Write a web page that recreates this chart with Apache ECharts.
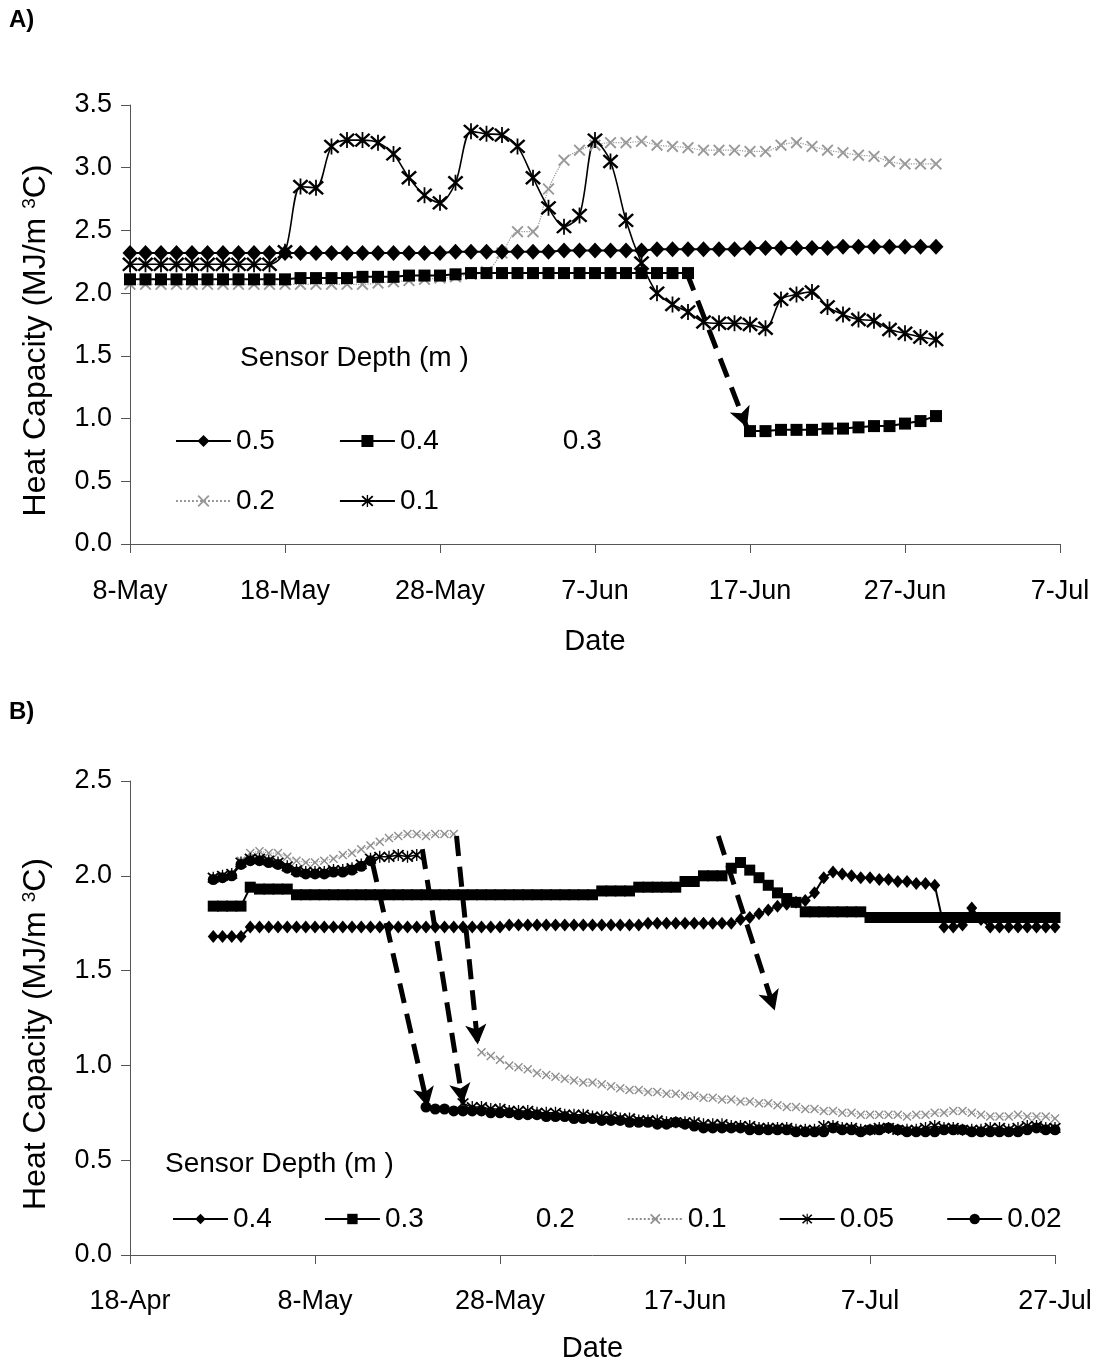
<!DOCTYPE html>
<html><head><meta charset="utf-8">
<script src="https://cdn.jsdelivr.net/npm/echarts@6/dist/echarts.min.js"></script>
<style>html,body{margin:0;padding:0;background:#fff}#c{width:1099px;height:1364px}</style>
</head><body><div id="c"></div>
<script>
// ---------- Panel A (days after 8-May) ----------
const ticksA = ['8-May','18-May','28-May','7-Jun','17-Jun','27-Jun','7-Jul'];
const startA = 0;
const a05 = [2.32,2.32,2.32,2.32,2.32,2.32,2.32,2.32,2.32,2.32,
             2.32,2.32,2.32,2.32,2.32,2.32,2.32,2.32,2.32,2.32,
             2.32,2.33,2.33,2.33,2.33,2.33,2.33,2.33,2.34,2.34,
             2.34,2.34,2.34,2.34,2.35,2.35,2.35,2.35,2.35,2.35,
             2.36,2.36,2.36,2.36,2.36,2.36,2.37,2.37,2.37,2.37,
             2.37,2.37,2.37];
const a04 = [2.11,2.11,2.11,2.11,2.11,2.11,2.11,2.11,2.11,2.11,
             2.11,2.12,2.12,2.12,2.12,2.13,2.13,2.13,2.14,2.14,
             2.14,2.15,2.16,2.16,2.16,2.16,2.16,2.16,2.16,2.16,
             2.16,2.16,2.16,2.16,2.16,2.16,2.16,null,null,null,
             0.90,0.90,0.91,0.91,0.91,0.92,0.92,0.93,0.94,0.94,
             0.96,0.98,1.02];
const a03 = [];
const a02 = [2.07,2.07,2.07,2.07,2.07,2.07,2.07,2.07,2.07,2.07,
             2.07,2.07,2.07,2.07,2.07,2.07,2.08,2.09,2.10,2.11,
             2.12,2.13,2.15,2.17,2.32,2.49,2.49,2.83,3.06,3.14,
             3.18,3.20,3.20,3.21,3.18,3.17,3.16,3.14,3.14,3.14,
             3.13,3.13,3.18,3.20,3.17,3.14,3.12,3.10,3.09,3.05,
             3.03,3.03,3.03];
const a01 = [2.23,2.23,2.23,2.23,2.23,2.23,2.23,2.23,2.23,2.23,
             2.33,2.85,2.84,3.17,3.22,3.22,3.20,3.11,2.92,2.78,
             2.72,2.88,3.29,3.27,3.26,3.17,2.92,2.68,2.53,2.62,
             3.22,3.05,2.58,2.24,2.00,1.91,1.85,1.77,1.76,1.76,
             1.75,1.72,1.95,1.99,2.01,1.89,1.83,1.79,1.78,1.71,
             1.68,1.65,1.63];
// arrow annotation: [day1, value1, day2, value2]
const arrowsA = [[35.9, 2.17, 39.8, 0.93]];

// ---------- Panel B (days after 18-Apr) ----------
const ticksB = ['18-Apr','8-May','28-May','17-Jun','7-Jul','27-Jul'];
const startB = 9;
const b04 = [1.68,1.68,1.68,1.68,1.73,1.73,1.73,1.73,1.73,1.73,
             1.73,1.73,1.73,1.73,1.73,1.73,1.73,1.73,1.73,1.73,
             1.73,1.73,1.73,1.73,1.73,1.73,1.73,1.73,1.73,1.73,
             1.73,1.73,1.74,1.74,1.74,1.74,1.74,1.74,1.74,1.74,
             1.74,1.74,1.74,1.74,1.74,1.74,1.74,1.75,1.75,1.75,
             1.75,1.75,1.75,1.75,1.75,1.75,1.75,1.77,1.78,1.80,
             1.82,1.84,1.85,1.86,1.87,1.91,1.99,2.02,2.01,2.00,
             1.99,1.99,1.98,1.98,1.97,1.97,1.96,1.96,1.95,1.73,
             1.73,1.74,1.83,1.77,1.73,1.73,1.73,1.73,1.73,1.73,
             1.73,1.73];
const b03 = [1.84,1.84,1.84,1.84,1.94,1.93,1.93,1.93,1.93,1.90,
             1.90,1.90,1.90,1.90,1.90,1.90,1.90,1.90,1.90,1.90,
             1.90,1.90,1.90,1.90,1.90,1.90,1.90,1.90,1.90,1.90,
             1.90,1.90,1.90,1.90,1.90,1.90,1.90,1.90,1.90,1.90,
             1.90,1.90,1.92,1.92,1.92,1.92,1.94,1.94,1.94,1.94,
             1.94,1.97,1.97,2.00,2.00,2.00,2.04,2.07,2.03,1.99,
             1.95,1.91,1.88,1.86,1.81,1.81,1.81,1.81,1.81,1.81,
             1.81,1.78,1.78,1.78,1.78,1.78,1.78,1.78,1.78,1.78,
             1.78,1.78,1.78,1.78,1.78,1.78,1.78,1.78,1.78,1.78,
             1.78,1.78];
const b02 = [];
const b01 = [1.99,2.00,2.01,2.08,2.12,2.13,2.12,2.12,2.10,2.08,
             2.07,2.07,2.08,2.09,2.11,2.12,2.14,2.16,2.18,2.20,
             2.21,2.22,2.22,2.21,2.22,2.22,2.22,null,null,1.07,
             1.05,1.03,1.00,0.99,0.98,0.96,0.95,0.94,0.93,0.92,
             0.91,0.91,0.90,0.89,0.88,0.87,0.87,0.86,0.86,0.85,
             0.85,0.84,0.84,0.83,0.83,0.82,0.82,0.81,0.81,0.80,
             0.80,0.79,0.78,0.78,0.77,0.77,0.76,0.76,0.75,0.75,
             0.74,0.74,0.74,0.74,0.74,0.73,0.74,0.74,0.75,0.75,
             0.76,0.76,0.75,0.74,0.73,0.73,0.73,0.74,0.73,0.73,
             0.73,0.72];
const b005 = [1.99,2.00,2.01,2.07,2.09,2.09,2.08,2.07,2.05,2.03,
              2.02,2.02,2.02,2.03,2.03,2.04,2.06,2.09,2.10,2.10,
              2.11,2.10,2.11,null,null,null,null,0.80,0.78,0.78,
              0.77,0.77,0.76,0.76,0.76,0.75,0.75,0.75,0.74,0.74,
              0.74,0.73,0.73,0.73,0.72,0.72,0.71,0.71,0.71,0.70,
              0.70,0.70,0.70,0.69,0.69,0.69,0.68,0.68,0.68,0.67,
              0.67,0.67,0.67,0.66,0.66,0.66,0.68,0.68,0.67,0.67,
              0.66,0.66,0.67,0.67,0.66,0.66,0.66,0.67,0.68,0.67,
              0.67,0.66,0.66,0.66,0.67,0.67,0.66,0.67,0.68,0.68,
              0.67,0.67];
const b002 = [1.98,1.99,2.00,2.06,2.08,2.08,2.07,2.06,2.04,2.02,
              2.01,2.01,2.01,2.02,2.02,2.03,2.05,2.08,null,null,
              null,null,null,0.78,0.77,0.77,0.76,0.76,0.76,0.76,
              0.75,0.75,0.75,0.74,0.74,0.74,0.73,0.73,0.73,0.72,
              0.72,0.72,0.71,0.71,0.71,0.70,0.70,0.70,0.69,0.69,
              0.70,0.69,0.68,0.67,0.67,0.67,0.67,0.67,0.66,0.66,
              0.66,0.66,0.66,0.65,0.65,0.65,0.65,0.67,0.66,0.66,
              0.65,0.66,0.66,0.67,0.66,0.65,0.65,0.65,0.65,0.66,
              0.66,0.66,0.65,0.65,0.65,0.65,0.65,0.65,0.66,0.67,
              0.66,0.66];
const arrowsB = [[26.2, 2.07, 32.2, 0.78],
                 [31.6, 2.14, 36.0, 0.80],
                 [35.3, 2.21, 37.6, 1.11],
                 [63.6, 2.21, 69.7, 1.29]];

// ---------- helpers ----------
const pts = (start, vals) => vals.map((v, i) => [start + i, v === null ? '-' : v]);
const X_SYM = 'path://M1,3 L3,1 L10,8 L17,1 L19,3 L12,10 L19,17 L17,19 L10,12 L3,19 L1,17 L8,10 Z';
const STAR_SYM = 'path://M1,3 L3,1 L10,8 L17,1 L19,3 L12,10 L19,17 L17,19 L10,12 L3,19 L1,17 L8,10 Z M9,0 L11,0 L11,20 L9,20 Z';
const FONT = '"Liberation Sans", Arial, sans-serif';
const arrowLines = arr => ({
  silent: true, animation: false,
  symbol: ['none', 'arrow'], symbolSize: [16, 20],
  label: { show: false },
  lineStyle: { color: '#000', width: 5, type: [20, 11] },
  data: arr.map(a => [{ coord: [a[0], a[1]] }, { coord: [a[2], a[3]] }])
});

function mk(name, gi, start, vals, sym, size, color, width, dash, extra) {
  return Object.assign({
    name: name, type: 'line', xAxisIndex: gi, yAxisIndex: gi,
    data: pts(start, vals), symbol: sym, symbolSize: size,
    showAllSymbol: true, connectNulls: false, animation: false,
    lineStyle: { color: color, width: width, type: dash },
    itemStyle: { color: color },
    emphasis: { disabled: true }
  }, extra || {});
}

const axisLbl = { color: '#000', fontSize: 27, fontFamily: FONT };
const yName = '{a|Heat Capacity (MJ/m }{s|3}{a|C)}';
const yNameStyle = { color: '#000', fontFamily: FONT, padding: [0, 32, 0, 0],
  rich: { a: { fontSize: 32, fontFamily: FONT, color: '#000' },
          s: { fontSize: 19, fontFamily: FONT, color: '#000', verticalAlign: 'top', padding: [0, 0, 12, 0] } } };
const axLine = { show: true, lineStyle: { color: '#555', width: 1 } };
const axTick = { show: true, length: 9, lineStyle: { color: '#555', width: 1 } };

const option = {
  backgroundColor: '#fff',
  textStyle: { fontFamily: FONT },
  title: [
    { text: 'A)', left: 9, top: 8, padding: 0, textStyle: { fontSize: 24, fontWeight: 'bold', color: '#000', fontFamily: FONT } },
    { text: 'B)', left: 9, top: 700, padding: 0, textStyle: { fontSize: 24, fontWeight: 'bold', color: '#000', fontFamily: FONT } },
    { text: 'Sensor Depth (m )', left: 240, top: 344, padding: 0, textStyle: { fontSize: 28, fontWeight: 'normal', color: '#000', fontFamily: FONT } },
    { text: 'Sensor Depth (m )', left: 165, top: 1150, padding: 0, textStyle: { fontSize: 28, fontWeight: 'normal', color: '#000', fontFamily: FONT } }
  ],
  legend: [
    { data: ['A0.5', 'A0.4', { name: 'A0.3', icon: 'none' }], left: 175, top: 427, padding: 0,
      itemWidth: 55, itemHeight: 15, itemGap: 64, selectedMode: false,
      formatter: n => n.slice(1), textStyle: { fontSize: 28, color: '#000', fontFamily: FONT } },
    { data: ['A0.2', 'A0.1'], left: 175, top: 487, padding: 0,
      itemWidth: 55, itemHeight: 15, itemGap: 64, selectedMode: false,
      formatter: n => n.slice(1), textStyle: { fontSize: 28, color: '#000', fontFamily: FONT } },
    { data: ['B0.4', 'B0.3', { name: 'B0.2', icon: 'none' }, 'B0.1', 'B0.05', 'B0.02'], left: 172, top: 1205, padding: 0,
      itemWidth: 55, itemHeight: 13, itemGap: 52, selectedMode: false,
      formatter: n => n.slice(1), textStyle: { fontSize: 28, color: '#000', fontFamily: FONT } }
  ],
  grid: [
    { left: 130, top: 105, width: 930, height: 439 },
    { left: 130, top: 781, width: 925, height: 475 }
  ],
  xAxis: [
    { gridIndex: 0, type: 'value', min: 0, max: 60, interval: 10,
      axisLine: axLine, axisTick: axTick, splitLine: { show: false },
      axisLabel: Object.assign({ margin: 34, formatter: v => ticksA[Math.round(v / 10)] }, axisLbl),
      name: 'Date', nameLocation: 'middle', nameGap: 83,
      nameTextStyle: { fontSize: 29, color: '#000', fontFamily: FONT } },
    { gridIndex: 1, type: 'value', min: 0, max: 100, interval: 20,
      axisLine: axLine, axisTick: axTick, splitLine: { show: false },
      axisLabel: Object.assign({ margin: 33, formatter: v => ticksB[Math.round(v / 20)] }, axisLbl),
      name: 'Date', nameLocation: 'middle', nameGap: 79,
      nameTextStyle: { fontSize: 29, color: '#000', fontFamily: FONT } }
  ],
  yAxis: [
    { gridIndex: 0, type: 'value', min: 0, max: 3.5, interval: 0.5,
      axisLine: axLine, axisTick: axTick, splitLine: { show: false },
      axisLabel: Object.assign({ margin: 18, formatter: v => v.toFixed(1) }, axisLbl),
      name: yName, nameLocation: 'middle', nameGap: 78, nameRotate: 90, nameTextStyle: yNameStyle },
    { gridIndex: 1, type: 'value', min: 0, max: 2.5, interval: 0.5,
      axisLine: axLine, axisTick: axTick, splitLine: { show: false },
      axisLabel: Object.assign({ margin: 18, formatter: v => v.toFixed(1) }, axisLbl),
      name: yName, nameLocation: 'middle', nameGap: 78, nameRotate: 90, nameTextStyle: yNameStyle }
  ],
  series: [
    mk('A0.2', 0, startA, a02, X_SYM, 12, '#999999', 1.2, 'dotted', { smooth: 0.3 }),
    mk('A0.5', 0, startA, a05, 'diamond', [15, 16], '#000', 2, 'solid'),
    mk('A0.4', 0, startA, a04, 'rect', 12, '#000', 2, 'solid', { markLine: arrowLines(arrowsA) }),
    mk('A0.3', 0, startA, a03, 'none', 1, 'rgba(0,0,0,0)', 0, 'solid'),
    mk('A0.1', 0, startA, a01, STAR_SYM, 16, '#000', 1.6, 'solid', { smooth: 0.3 }),

    mk('B0.4', 1, startB, b04, 'diamond', [11, 13], '#000', 2, 'solid'),
    mk('B0.3', 1, startB, b03, 'rect', 11, '#000', 2, 'solid'),
    mk('B0.2', 1, startB, b02, 'none', 1, 'rgba(0,0,0,0)', 0, 'solid'),
    mk('B0.1', 1, startB, b01, X_SYM, 9, '#8f8f8f', 1, 'dotted'),
    mk('B0.05', 1, startB, b005, STAR_SYM, 12, '#000', 1.5, 'solid'),
    mk('B0.02', 1, startB, b002, 'circle', 11, '#000', 1.5, 'solid', { markLine: arrowLines(arrowsB) })
  ]
};
const chart = echarts.init(document.getElementById('c'));
chart.setOption(option);
</script></body></html>
